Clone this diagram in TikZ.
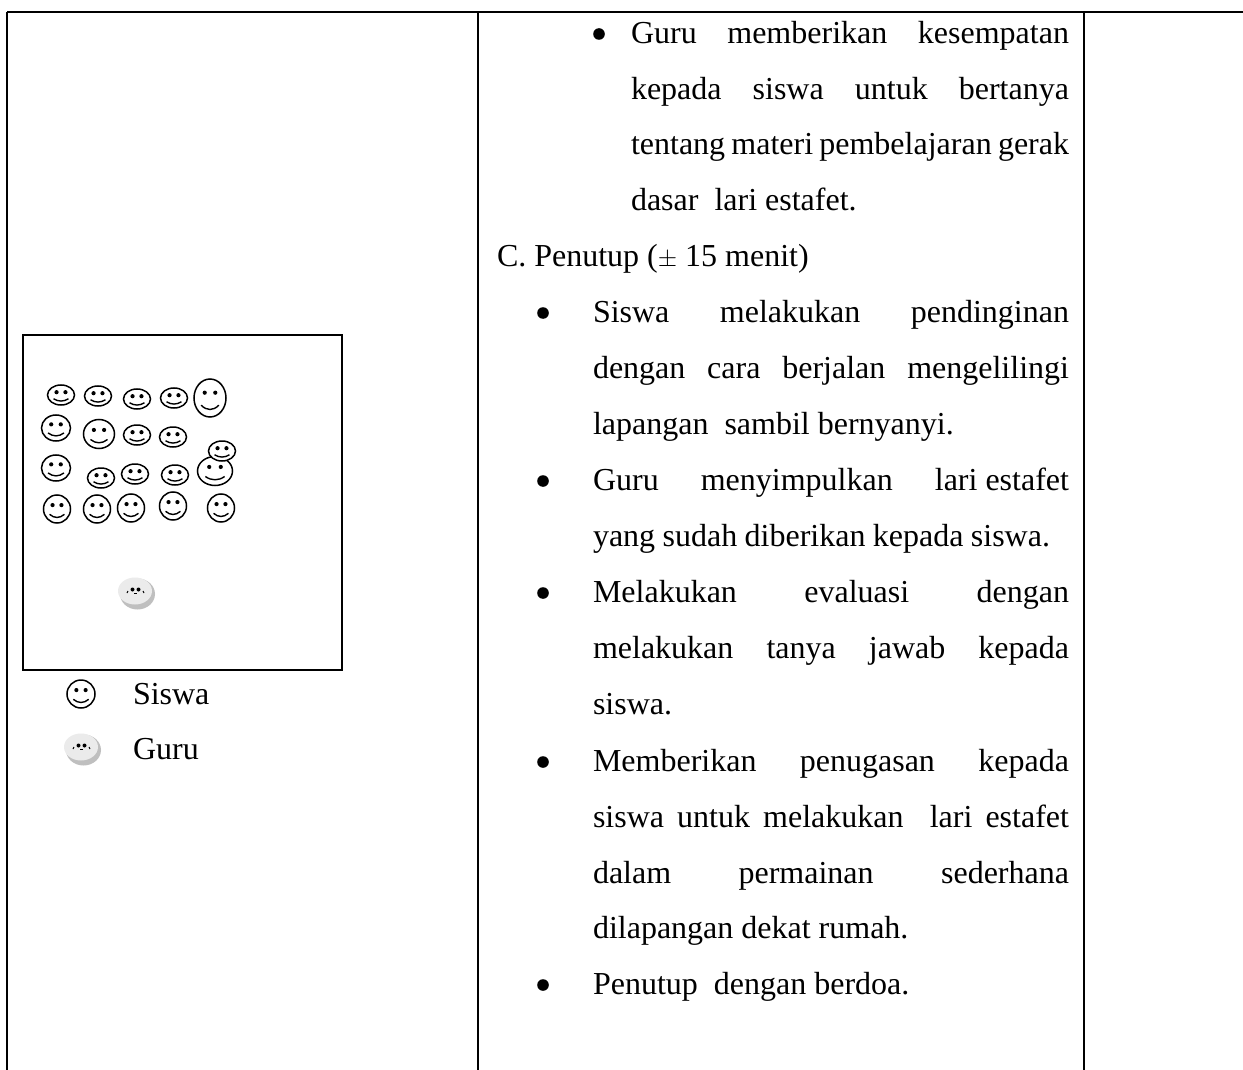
\documentclass[tikz,border=0pt]{standalone}
\usepackage{fontspec}
\setmainfont{Liberation Serif}
\tikzset{
  x=1pt,y=-1pt,
  rule/.style={draw=black,line width=2.6pt},
  facering/.style={draw=black,line width=1.5pt,fill=white},
  txt/.style={anchor=base west,inner sep=0pt,outer sep=0pt,font=\fontsize{32}{38}\selectfont},
  bul/.style={fill=black,draw=none}
}
\newcommand{\jl}[4]{\node[txt] at (#1,#2) {\hbox to #3pt{#4}};}
\newcommand{\tl}[3]{\node[txt] at (#1,#2) {#3};}
\newcommand{\bu}[2]{\fill[bul] (#1,#2) circle (5.8);}
\newcommand{\face}[4]{%
  \begin{scope}[shift={(#1,#2)}]
    \draw[facering] (0,0) ellipse ({#3} and {#4});
    \fill ({-0.33*#3},{-0.28*#4}) circle (2.1);
    \fill ({0.33*#3},{-0.28*#4}) circle (2.1);
    \draw[line width=1.4pt] ({-0.55*#3},{0.38*#4}) .. controls ({-0.2*#3},{0.68*#4}) and ({0.2*#3},{0.68*#4}) .. ({0.55*#3},{0.38*#4});
  \end{scope}}
\newcommand{\guruface}[2]{%
  \begin{scope}[shift={(#1,#2)}]
    \fill[black!25] (1.5,1) ellipse (17.5 and 15.5);
    \fill[black!8] (-1,-2) ellipse (17 and 13.5);
    \fill (-3.5,-3.5) circle (2);
    \fill (2.5,-3.5) circle (2);
    \draw[line width=.8pt] (-2,0) -- (1,0);
    \draw[line width=1pt] (-9,0) -- (-8,-2);
    \draw[line width=1pt] (8,0) -- (7,-2);
  \end{scope}}
\begin{document}
\begin{tikzpicture}
\useasboundingbox (0,0) rectangle (1243,1070);
\fill[white] (0,0) rectangle (1243,1070);
\coordinate (tl) at (7,12); \coordinate (tr) at (1243,12);
\coordinate (bl) at (7,1070); \coordinate (c1t) at (478,12); \coordinate (c1b) at (478,1070);
\coordinate (c2t) at (1084,12); \coordinate (c2b) at (1084,1070);
\draw[rule] (tl) -- (tr);
\draw[rule] (tl) -- (bl);
\draw[rule] (c1t) -- (c1b);
\draw[rule] (c2t) -- (c2b);
% plan
\draw[rule,line width=1.8pt] (23,335) rectangle (342,670);
\face{61}{395}{13.5}{10}
\face{98}{396}{13.5}{10}
\face{137}{399}{13.5}{10}
\face{174}{398}{13.5}{10}
\face{210}{398}{16}{19}
\face{56}{428}{14.5}{13}
\face{99}{434}{15.5}{14.5}
\face{137}{435}{13.5}{10}
\face{173}{437}{13.5}{10}
\face{56}{468}{14.5}{13}
\face{101}{478}{13.5}{10}
\face{135}{474}{13.5}{10}
\face{175}{475}{13.5}{10}
\face{215}{471}{17.5}{14.5}
\face{222}{451}{13.5}{10}
\face{57}{509}{13.5}{14}
\face{97}{509}{13.5}{14}
\face{131}{508}{13.5}{14}
\face{173}{506}{13.5}{14}
\face{221}{508}{13.5}{14}
\guruface{136}{593}
% legend
\face{81}{694}{14}{14}
\guruface{82}{749}
\tl{133}{704}{Siswa}
\tl{133}{759}{Guru}
% text
\bu{599}{34}
\jl{631}{44}{438}{Guru\hfil memberikan\hfil kesempatan}
\jl{631}{100}{438}{kepada\hfil siswa\hfil untuk\hfil bertanya}
\jl{631}{155}{438}{tentang materi pembelajaran gerak}
\tl{631}{211}{dasar\ \ lari estafet.}
\tl{497}{266}{C. Penutup ($\pm$ 15 menit)}
\bu{543}{313}
\jl{593}{322}{476}{Siswa\hfil melakukan\hfil pendinginan}
\jl{593}{378}{476}{dengan\hfil cara\hfil berjalan\hfil mengelilingi}
\tl{593}{434}{lapangan\ \ sambil bernyanyi.}
\bu{543}{481}
\jl{593}{490}{476}{Guru\hfil menyimpulkan\hfil lari estafet}
\jl{593}{546}{457}{yang sudah diberikan kepada siswa.}
\bu{543}{593}
\jl{593}{602}{476}{Melakukan\hfil evaluasi\hfil dengan}
\jl{593}{658}{476}{melakukan\hfil tanya\hfil jawab\hfil kepada}
\tl{593}{714}{siswa.}
\bu{543}{762}
\jl{593}{771}{476}{Memberikan\hfil penugasan\hfil kepada}
\jl{593}{827}{476}{siswa untuk melakukan\ \ lari estafet}
\jl{593}{883}{476}{dalam\hfil permainan\hfil sederhana}
\tl{593}{938}{dilapangan dekat rumah.}
\bu{543}{985}
\tl{593}{994}{Penutup\ \ dengan berdoa.}
\end{tikzpicture}
\end{document}
